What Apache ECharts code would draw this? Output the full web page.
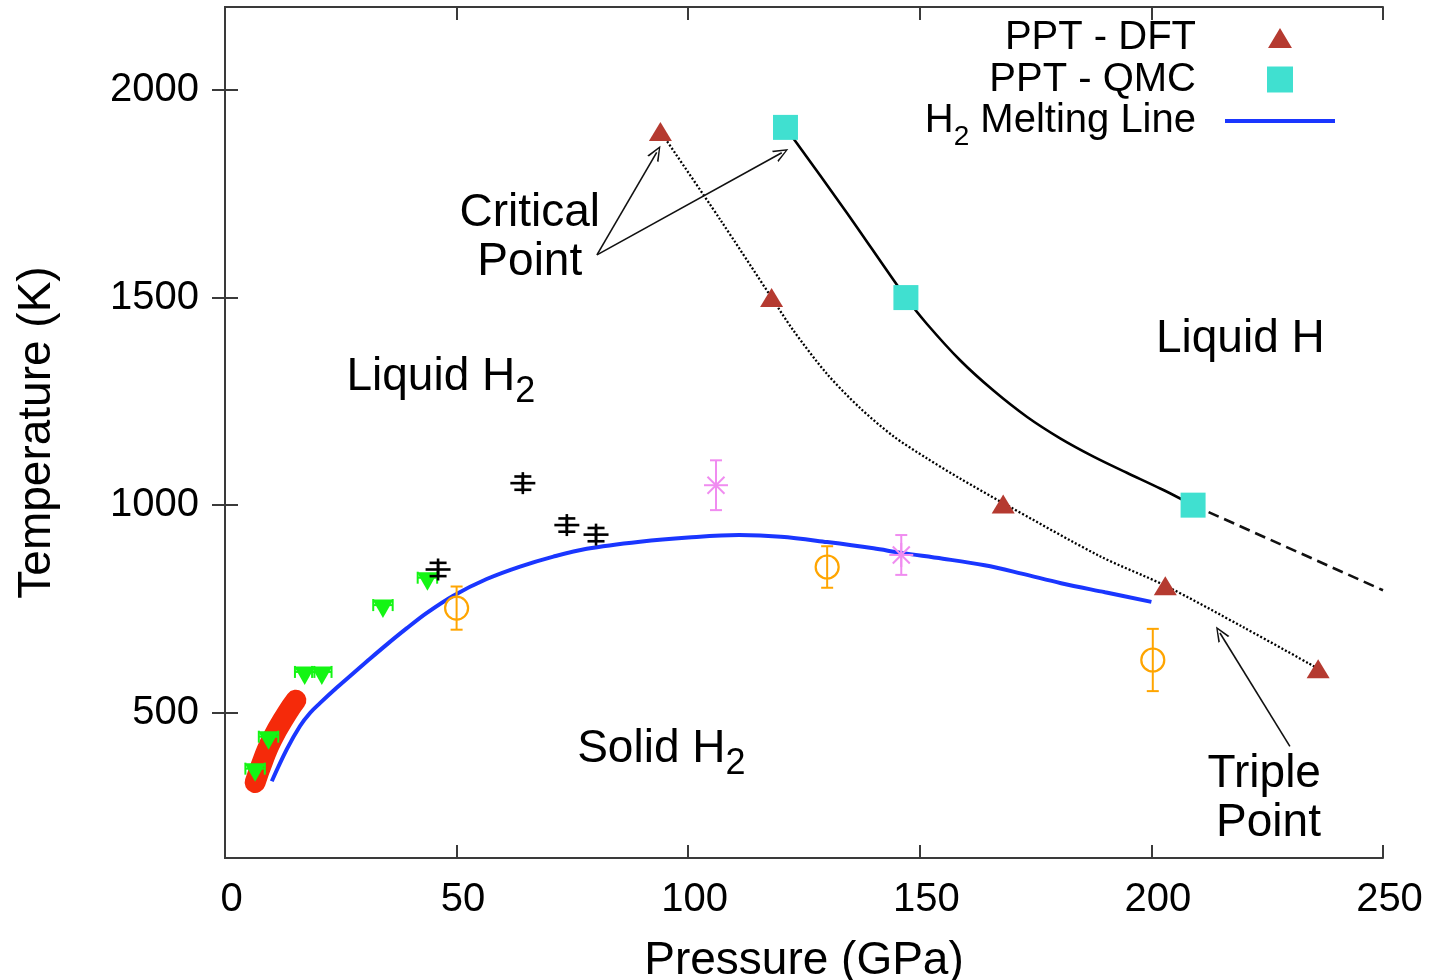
<!DOCTYPE html>
<html>
<head>
<meta charset="utf-8">
<script src="https://cdn.jsdelivr.net/npm/echarts@6/dist/echarts.min.js"></script>
<style>html,body{margin:0;padding:0;background:#fff}#c{width:1431px;height:980px}</style>
</head>
<body>
<div id="c"></div>
<script>
// ---------- tick labels ----------
const xTicks = [0, 50, 100, 150, 200, 250];
const yTicks = [500, 1000, 1500, 2000];

// ---------- PPT - DFT (pressure GPa, temperature K) ----------
const dftP = [94, 118, 168, 203, 236];
const dftT = [1900, 1500, 1003, 806, 606];
const dftCurveP = [94, 106.9, 118, 122.7, 129.9, 137.1, 144.3, 151.5, 158.7, 168, 188.9, 203, 220, 236];
const dftCurveT = [1900, 1688, 1500, 1421, 1317, 1234, 1166, 1113, 1064, 1005, 877, 806, 705, 606];

// ---------- PPT - QMC ----------
const qmcP = [121, 147, 209];
const qmcT = [1910, 1500, 1000];
const qmcCurveP = [121, 134.2, 147, 151.5, 158.7, 165.9, 173.1, 180.3, 187.5, 194.7, 201.9, 209];
const qmcCurveT = [1910, 1705, 1500, 1437, 1349, 1276, 1213, 1161, 1117, 1078, 1040, 1000];
const qmcExtP = [209, 250];
const qmcExtT = [1000, 795];

// ---------- H2 melting line ----------
const meltP = [10.1, 13.3, 16.2, 18.4, 20.5, 24.1, 27.7, 31.3, 34.9, 39.2, 43.5, 49.3, 56.5, 63.7, 70.9, 78.1, 89.6, 100, 111, 120, 130, 140, 146, 155, 164, 172, 180.5, 190, 200];
const meltT = [335, 411, 468, 500, 523, 560, 595, 630, 664, 703, 740, 782, 822, 852, 876, 895, 912, 922, 928, 924, 911, 896, 885, 871, 855, 835, 812, 790, 767];

// ---------- experimental data ----------
const redBandP = [6.5, 8.2, 10.1, 13.4, 15.3];
const redBandT = [332, 385, 435, 499, 530];

const greenP = [6.5, 9.4, 17.2, 20.9, 34.1, 43.7];
const greenT = [358, 435, 591, 591, 752, 818];
const greenXErr = [2.1, 2.1, 2.1, 2.1, 2.1, 2.1];

const blackP = [46, 64.3, 73.8, 80.1];
const blackT = [845, 1053, 952, 929];
const blackErr = [16, 16, 16, 16];

const violetP = [106, 146];
const violetT = [1048, 880];
const violetErr = [60, 48];

const orangeP = [50, 130, 200.3];
const orangeT = [752, 851, 627];
const orangeErr = [52, 50, 75];

// ---------- annotations (data coordinates) ----------
const labelText = ['Liquid H{s|2}', 'Solid H{s|2}', 'Liquid H', 'Critical\nPoint', 'Triple\nPoint'];
const labelP = [46.6, 94.2, 219.2, 65.8, 236.6];
const labelT = [1308, 412, 1399, 1643, 293];
const labelAlign = ['center', 'center', 'center', 'center', 'right'];

const arrowFromP = [80.3, 80.3, 229.9];
const arrowFromT = [1603, 1603, 419];
const arrowToP = [93.2, 120.2, 214.8];
const arrowToT = [1850, 1849, 692];

// ---------- helpers ----------
const FONT = 'Liberation Sans, Arial, sans-serif';
const zip2 = (a, b) => a.map((v, i) => [v, b[i]]);
const zip3 = (a, b, c) => a.map((v, i) => [v, b[i], c[i]]);

const chart = echarts.init(document.getElementById('c'), null, {renderer: 'canvas'});

function errY(api, color, drawSymbol, capW, lw) {
  const x = api.value(0), y = api.value(1), e = api.value(2);
  const p = api.coord([x, y]);
  const t = api.coord([x, y + e]);
  const b = api.coord([x, y - e]);
  const st = {stroke: color, lineWidth: lw};
  const ch = [
    {type: 'line', shape: {x1: p[0], y1: t[1], x2: p[0], y2: b[1]}, style: st},
    {type: 'line', shape: {x1: p[0] - capW, y1: t[1], x2: p[0] + capW, y2: t[1]}, style: st},
    {type: 'line', shape: {x1: p[0] - capW, y1: b[1], x2: p[0] + capW, y2: b[1]}, style: st}
  ];
  return {type: 'group', children: ch.concat(drawSymbol(p, st))};
}

const axisLineStyle = {color: '#3a3a3a', width: 2};

// legend icons (shape only; keepAspect keeps them at marker size)
const iconTriangle = 'path://M11.5,0 L11.51,0 Z M11.5,3 L23,22 L0,22 Z M11.5,25 L11.51,25 Z';
const iconSquare = 'path://M0,0 L25,0 L25,25 L0,25 Z';
const iconLine = 'path://M0,0 L0.01,0 Z M0,10.5 L110,10.5 L110,14.5 L0,14.5 Z M0,25 L0.01,25 Z';

const option = {
  animation: false,
  backgroundColor: '#fff',
  grid: {left: 225, right: 48, top: 7, bottom: 122, containLabel: false, outerBoundsMode: 'none'},
  legend: {
    orient: 'vertical', align: 'right', right: 96, top: 18, padding: 0,
    itemWidth: 110, itemHeight: 26, itemGap: 1.5, symbolKeepAspect: true,
    data: [
      {name: 'PPT - DFT', icon: iconTriangle},
      {name: 'PPT - QMC', icon: iconSquare},
      {name: 'H2 Melting Line', icon: iconLine}
    ],
    formatter: function (name) {
      if (name === 'H2 Melting Line') return 'H{ls|2} Melting Line{sp| }';
      return name + '{sp| }';
    },
    textStyle: {
      fontFamily: FONT, fontSize: 40, color: '#000', lineHeight: 40,
      rich: {
        ls: {fontFamily: FONT, fontSize: 28, lineHeight: 40, padding: [16, 0, -16, 0], verticalAlign: 'middle', color: '#000'},
        sp: {width: 24, fontSize: 40, lineHeight: 40}
      }
    },
    selectedMode: false
  },
  xAxis: [{
    type: 'value', min: 0, max: 250, interval: 50, position: 'bottom',
    axisLine: {show: true, lineStyle: axisLineStyle},
    axisTick: {show: true, inside: true, length: 13, lineStyle: axisLineStyle},
    axisLabel: {show: true, fontFamily: FONT, fontSize: 40, color: '#000', margin: 22, padding: [0, 0, 0, 13],
      customValues: xTicks, formatter: v => String(v)},
    splitLine: {show: false},
    name: 'Pressure (GPa)', nameLocation: 'middle', nameGap: 80,
    nameTextStyle: {fontFamily: FONT, fontSize: 46, color: '#000'}
  }, {
    type: 'value', min: 0, max: 250, interval: 50, position: 'top',
    axisLine: {show: true, lineStyle: axisLineStyle},
    axisTick: {show: true, inside: true, length: 13, lineStyle: axisLineStyle},
    axisLabel: {show: false}, splitLine: {show: false}
  }],
  yAxis: [{
    type: 'value', min: 150, max: 2200, position: 'left',
    axisLine: {show: true, lineStyle: axisLineStyle},
    axisTick: {show: true, inside: true, length: 13, lineStyle: axisLineStyle, customValues: yTicks},
    axisLabel: {show: true, fontFamily: FONT, fontSize: 40, color: '#000', margin: 26, customValues: yTicks,
      formatter: v => String(v)},
    splitLine: {show: false},
    name: 'Temperature (K)', nameLocation: 'middle', nameGap: 165,
    nameTextStyle: {fontFamily: FONT, fontSize: 46, color: '#000'}
  }, {
    type: 'value', min: 150, max: 2200, position: 'right',
    axisLine: {show: true, lineStyle: axisLineStyle},
    axisTick: {show: true, inside: true, length: 13, lineStyle: axisLineStyle, customValues: yTicks},
    axisLabel: {show: false}, splitLine: {show: false}
  }],
  series: [
    // red thick band
    {type: 'line', name: 'redband', data: zip2(redBandP, redBandT), symbol: 'none', smooth: true,
      lineStyle: {color: '#f52a0a', width: 21, cap: 'round', join: 'round'}, z: 2},
    // melting line
    {type: 'line', name: 'H2 Melting Line', data: zip2(meltP, meltT), symbol: 'none', showSymbol: false,
      smooth: 0.35,
      lineStyle: {color: '#1a36ff', width: 4}, itemStyle: {color: '#1a36ff'}, z: 3},
    // DFT dotted curve
    {type: 'line', name: 'dftcurve', data: zip2(dftCurveP, dftCurveT), symbol: 'none', smooth: 0.3,
      lineStyle: {color: '#000', width: 2.3, type: [2, 2]}, z: 3},
    // QMC solid curve
    {type: 'line', name: 'qmccurve', data: zip2(qmcCurveP, qmcCurveT), symbol: 'none', smooth: 0.3,
      lineStyle: {color: '#000', width: 2.6}, z: 3},
    // QMC dashed extension
    {type: 'line', name: 'qmcext', data: zip2(qmcExtP, qmcExtT), symbol: 'none',
      lineStyle: {color: '#111', width: 2.6, type: [11, 6]}, z: 3},
    // green triangles with small x error bars
    {type: 'custom', name: 'green', data: zip3(greenP, greenT, greenXErr), z: 5,
      renderItem: function (params, api) {
        const x = api.value(0), y = api.value(1), e = api.value(2);
        const p = api.coord([x, y]);
        const l = api.coord([x - e, y]);
        const r = api.coord([x + e, y]);
        const c = '#14f514';
        const st = {stroke: c, lineWidth: 2};
        const yc = p[1] - 3;
        return {type: 'group', children: [
          {type: 'line', shape: {x1: l[0], y1: yc, x2: r[0], y2: yc}, style: st},
          {type: 'line', shape: {x1: l[0], y1: yc - 6, x2: l[0], y2: yc + 6}, style: st},
          {type: 'line', shape: {x1: r[0], y1: yc - 6, x2: r[0], y2: yc + 6}, style: st},
          {type: 'polygon', shape: {points: [[p[0] - 10.5, p[1] - 8.5], [p[0] + 10.5, p[1] - 8.5], [p[0], p[1] + 10]]}, style: {fill: c}}
        ]};
      }},
    // black plus with error bars
    {type: 'custom', name: 'black', data: zip3(blackP, blackT, blackErr), z: 5,
      renderItem: function (params, api) {
        return errY(api, '#000', function (p, st) {
          return [
            {type: 'line', shape: {x1: p[0] - 12.5, y1: p[1], x2: p[0] + 12.5, y2: p[1]}, style: st},
            {type: 'line', shape: {x1: p[0], y1: p[1] - 11, x2: p[0], y2: p[1] + 11}, style: st}
          ];
        }, 8.5, 2.6);
      }},
    // violet asterisks with error bars
    {type: 'custom', name: 'violet', data: zip3(violetP, violetT, violetErr), z: 5,
      renderItem: function (params, api) {
        return errY(api, '#f08cf0', function (p, st) {
          const d = 8.5;
          return [
            {type: 'line', shape: {x1: p[0] - 12, y1: p[1], x2: p[0] + 12, y2: p[1]}, style: st},
            {type: 'line', shape: {x1: p[0], y1: p[1] - 12, x2: p[0], y2: p[1] + 12}, style: st},
            {type: 'line', shape: {x1: p[0] - d, y1: p[1] - d, x2: p[0] + d, y2: p[1] + d}, style: st},
            {type: 'line', shape: {x1: p[0] - d, y1: p[1] + d, x2: p[0] + d, y2: p[1] - d}, style: st}
          ];
        }, 6, 2);
      }},
    // orange open circles with error bars
    {type: 'custom', name: 'orange', data: zip3(orangeP, orangeT, orangeErr), z: 5,
      renderItem: function (params, api) {
        return errY(api, '#ffa500', function (p, st) {
          return [{type: 'circle', shape: {cx: p[0], cy: p[1], r: 11.5}, style: {fill: 'none', stroke: '#ffa500', lineWidth: 2.2}}];
        }, 6, 2);
      }},
    // PPT - DFT markers
    {type: 'scatter', name: 'PPT - DFT', data: zip2(dftP, dftT), symbol: 'triangle', symbolSize: [23, 19],
      itemStyle: {color: '#b53a30', opacity: 1}, z: 6},
    // PPT - QMC markers
    {type: 'scatter', name: 'PPT - QMC', data: zip2(qmcP, qmcT), symbol: 'rect', symbolSize: 25,
      itemStyle: {color: '#40e0d0', opacity: 1}, z: 6},
    // annotations
    {type: 'scatter', name: 'annotations', symbolSize: 0, z: 7, silent: true,
      itemStyle: {opacity: 1},
      data: labelP.map((p, i) => ({
        value: [p, labelT[i]],
        label: {show: true, position: 'inside', formatter: labelText[i], align: labelAlign[i], verticalAlign: 'middle', color: '#000'}
      })),
      label: {
        show: true, fontFamily: FONT, fontSize: 46, color: '#000', lineHeight: 49, opacity: 1,
        rich: {
          s: {fontFamily: FONT, fontSize: 36, lineHeight: 49, padding: [15, 0, -15, 0], verticalAlign: 'middle', color: '#000'}
        }
      },
      markLine: {
        silent: true, animation: false,
        symbol: ['none', 'path://M50,0 L100,100 L86,100 L50,22 L14,100 L0,100 Z'],
        symbolSize: [13, 15],
        lineStyle: {color: '#111', width: 1.6, type: 'solid', opacity: 1},
        label: {show: false},
        emphasis: {disabled: true},
        data: arrowFromP.map((p, i) => [
          {coord: [p, arrowFromT[i]]},
          {coord: [arrowToP[i], arrowToT[i]]}
        ])
      }}
  ]
};
chart.setOption(option);
</script>
</body>
</html>
